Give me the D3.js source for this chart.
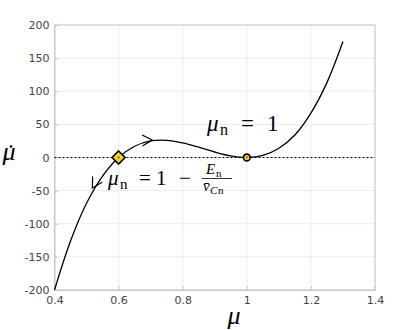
<!DOCTYPE html>
<html>
<head>
<meta charset="utf-8">
<script src="https://cdn.jsdelivr.net/npm/d3@7"></script>
<style>
  body { margin: 0; background: #fff; }
  .tick text { font-family: "DejaVu Sans", sans-serif; font-size: 11px; fill: #444; }
  .math { font-family: "Liberation Serif", "DejaVu Serif", serif; fill: #000; }
</style>
</head>
<body>
<div id="chart"></div>
<script>
var width = 415,
    height = 330;

const margin = { top: 25, right: 40, bottom: 40, left: 54.5 };

// values
const muValues = [0.40, 0.45, 0.50, 0.55, 0.60, 0.65, 0.70, 0.75, 0.80, 0.85, 0.90, 0.95, 1.00, 1.05, 1.10, 1.15, 1.20, 1.25, 1.30];
const muDotValues = [-200, -126, -69, -28, 0, 17, 25, 26, 22, 15.6, 8.3, 2.4, 0, 3.1, 14, 34, 67, 113, 175];
const xTicks = [0.4, 0.6, 0.8, 1, 1.2, 1.4];
const yTicks = [-200, -150, -100, -50, 0, 50, 100, 150, 200];
const fixedPoints = [{ mu: 0.6, v: 0, shape: 'diamond' }, { mu: 1.0, v: 0, shape: 'circle' }];
const arrows = [{ mu: 0.705, v: 26.4, dir: 1 }, { mu: 0.518, v: -46, dir: -1 }];

var x = d3.scaleLinear().domain([0.4, 1.4]).range([margin.left, width - margin.right]);
var y = d3.scaleLinear().domain([-200, 200]).range([height - margin.bottom, margin.top]);

var svg = d3.select('#chart').append('svg')
    .attr('width', width)
    .attr('height', height);

// grid
svg.append('g').selectAll('line')
    .data(xTicks)
    .enter().append('line')
    .attr('x1', d => x(d)).attr('x2', d => x(d))
    .attr('y1', y(-200)).attr('y2', y(200))
    .attr('stroke', '#ebebeb');

svg.append('g').selectAll('line')
    .data(yTicks)
    .enter().append('line')
    .attr('x1', x(0.4)).attr('x2', x(1.4))
    .attr('y1', d => y(d)).attr('y2', d => y(d))
    .attr('stroke', '#ebebeb');

// box
svg.append('rect')
    .attr('x', x(0.4)).attr('y', y(200))
    .attr('width', x(1.4) - x(0.4)).attr('height', y(-200) - y(200))
    .attr('fill', 'none')
    .attr('stroke', '#c8c8c8');

// axes
var xAxis = svg.append('g')
    .attr('transform', `translate(0,${y(-200)})`)
    .call(d3.axisBottom(x).tickValues(xTicks).tickSize(-4).tickPadding(5).tickFormat(d3.format('~g')));
var yAxis = svg.append('g')
    .attr('transform', `translate(${x(0.4)},0)`)
    .call(d3.axisLeft(y).tickValues(yTicks).tickSize(-4).tickPadding(5)
        .tickFormat(d => String(d)));

[xAxis, yAxis].forEach(a => {
    a.select('.domain').attr('stroke', '#c8c8c8');
    a.selectAll('.tick line').attr('stroke', '#c8c8c8');
});
xAxis.selectAll('.tick text').attr('dy', '0.85em');

// zero line
svg.append('line')
    .attr('x1', x(0.4)).attr('x2', x(1.4))
    .attr('y1', y(0)).attr('y2', y(0))
    .attr('stroke', '#000')
    .attr('stroke-width', 1)
    .attr('stroke-dasharray', '2,2');

// curve
const pts = muValues.map((m, i) => [m, muDotValues[i]]);
const line = d3.line()
    .x(d => x(d[0]))
    .y(d => y(d[1]))
    .curve(d3.curveCatmullRom);

svg.append('path')
    .datum(pts)
    .attr('d', line)
    .attr('fill', 'none')
    .attr('stroke', '#000')
    .attr('stroke-width', 1.3);

// direction arrows (open heads)
function slopeAt(m) {
    for (let i = 0; i < pts.length - 1; i++) {
        if (m >= pts[i][0] && m <= pts[i + 1][0]) {
            return [x(pts[i + 1][0]) - x(pts[i][0]), y(pts[i + 1][1]) - y(pts[i][1])];
        }
    }
    return [1, 0];
}

svg.append('g').selectAll('path')
    .data(arrows)
    .enter().append('path')
    .attr('transform', d => {
        const s = slopeAt(d.mu);
        let ang = Math.atan2(s[1], s[0]) * 180 / Math.PI;
        if (d.dir < 0) ang += 180;
        return `translate(${x(d.mu)},${y(d.v)}) rotate(${ang})`;
    })
    .attr('d', 'M-10,-5.5 L0,0 L-10,5.5')
    .attr('fill', 'none')
    .attr('stroke', '#000')
    .attr('stroke-width', 1.2);

// fixed points
const fp = svg.append('g').selectAll('g')
    .data(fixedPoints)
    .enter().append('g')
    .attr('transform', d => `translate(${x(d.mu)},${y(d.v)})`);

fp.append('path')
    .attr('d', d => d.shape === 'diamond'
        ? 'M0,-6.5 L6.5,0 L0,6.5 L-6.5,0 Z'
        : d3.symbol(d3.symbolCircle, 36)())
    .attr('fill', '#f0d234')
    .attr('stroke', '#000')
    .attr('stroke-width', 1.6);

fp.append('circle')
    .attr('r', 0.9)
    .attr('fill', '#6b5a10');

// axis labels
svg.append('text')
    .attr('class', 'math')
    .attr('x', 234)
    .attr('y', 324)
    .attr('text-anchor', 'middle')
    .attr('font-size', 26)
    .attr('font-style', 'italic')
    .text('μ');

svg.append('text')
    .attr('class', 'math')
    .attr('x', 9)
    .attr('y', 160)
    .attr('text-anchor', 'middle')
    .attr('font-size', 26)
    .attr('font-style', 'italic')
    .text('μ');
svg.append('circle')
    .attr('cx', 11).attr('cy', 146.5)
    .attr('r', 1.3)
    .attr('fill', '#000');

function mathText(parts, size) {
    var t = svg.append('text').attr('class', 'math').attr('font-size', size);
    parts.forEach(p => {
        t.append('tspan')
            .attr('x', p.x)
            .attr('y', p.y)
            .attr('font-size', p.size || size)
            .attr('font-style', p.italic ? 'italic' : null)
            .text(p.s);
    });
    return t;
}

// annotation: mu_n = 1
mathText([
    { s: 'μ', x: 207, y: 131, italic: true },
    { s: 'n', x: 220, y: 135, size: 16 },
    { s: '=', x: 241, y: 131 },
    { s: '1', x: 267, y: 131 }
], 23);

// annotation: mu_n = 1 - E_n / v_Cn
mathText([
    { s: 'μ', x: 108, y: 185, italic: true },
    { s: 'n', x: 120, y: 189, size: 15 },
    { s: '=', x: 139, y: 185 },
    { s: '1', x: 156, y: 185 },
    { s: '−', x: 179, y: 185 }
], 21);

mathText([
    { s: 'E', x: 206, y: 174, italic: true },
    { s: 'n', x: 216, y: 177, size: 11 },
    { s: 'v\u0304', x: 203, y: 191, italic: true },
    { s: 'C', x: 210, y: 194, size: 11, italic: true },
    { s: 'n', x: 218, y: 194, size: 11 }
], 15);

svg.append('line')
    .attr('x1', 202).attr('x2', 232)
    .attr('y1', 178.5).attr('y2', 178.5)
    .attr('stroke', '#000').attr('stroke-width', 0.8);
</script>
</body>
</html>
